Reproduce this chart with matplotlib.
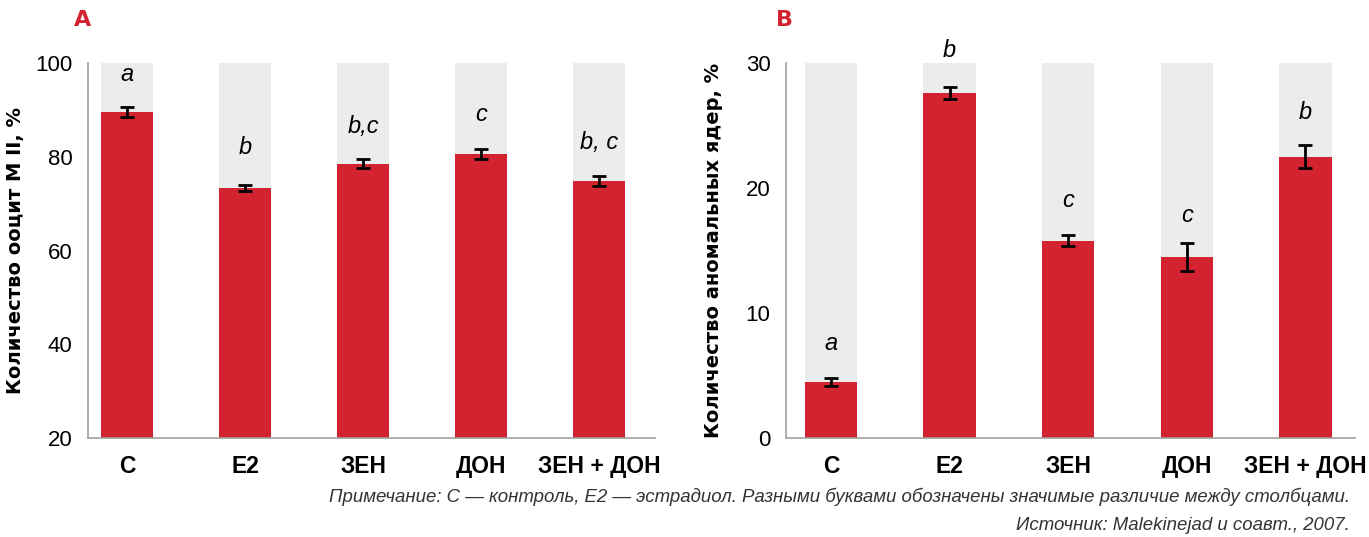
''' oocyte maturation and abnormal nuclei bar charts '''
import matplotlib
matplotlib.use('Agg')
import matplotlib.pyplot as plt

RED = '#d42330'
GREY = '#ebeded'
NARROW = ['Liberation Sans', 'DejaVu Sans']

groups = ['С', 'E2', 'ЗЕН', 'ДОН', 'ЗЕН + ДОН']

# panel A: oocytes in M II, %
mii_mean = [89.5, 73.3, 78.5, 80.6, 74.8]
mii_err = [1.0, 0.6, 1.0, 1.0, 1.0]
mii_letters = ['a', 'b', 'b,c', 'c', 'b, c']
mii_letter_y = [97.5, 82.0, 86.5, 89.0, 83.0]

# panel B: abnormal nuclei, %
abn_mean = [4.5, 27.6, 15.8, 14.5, 22.5]
abn_err = [0.3, 0.5, 0.4, 1.1, 0.9]
abn_letters = ['a', 'b', 'c', 'c', 'b']
abn_letter_y = [7.6, 31.0, 19.0, 17.8, 26.0]


def draw_panel(ax, means, errs, letters, letter_y, ylim, yticks, ylabel, xlim):
    '''draws one panel of red bars over grey full-height columns'''
    x = list(range(len(groups)))
    ax.bar(x, [ylim[1] - ylim[0]] * len(x), bottom=ylim[0], width=0.44,
           color=GREY, zorder=1)
    ax.bar(x, [m - ylim[0] for m in means], bottom=ylim[0], width=0.44,
           color=RED, zorder=2)
    ax.errorbar(x, means, yerr=errs, fmt='none', ecolor='black',
                elinewidth=2, capsize=5, capthick=2, zorder=3)
    for xi, lab, ly in zip(x, letters, letter_y):
        ax.text(xi, ly, lab, ha='center', va='center', fontsize=17,
                style='italic', family=NARROW, zorder=4, clip_on=False)
    ax.set_ylim(*ylim)
    ax.set_xlim(*xlim)
    ax.set_yticks(yticks)
    ax.set_yticklabels([str(t) for t in yticks], family=NARROW, fontsize=16)
    ax.set_xticks(x)
    ax.set_xticklabels(groups, family=NARROW, fontsize=16.5, fontweight='bold')
    ax.tick_params(length=0, axis='y', pad=11)
    ax.tick_params(length=0, axis='x', pad=12)
    for side in ('top', 'right'):
        ax.spines[side].set_visible(False)
    for side in ('left', 'bottom'):
        ax.spines[side].set_color('#a0a0a0')
        ax.spines[side].set_linewidth(1.2)
    ax.set_ylabel(ylabel, fontsize=14, fontweight='bold', family=['DejaVu Sans'])
    ax.yaxis.set_label_coords(-0.111, 0.5)


def main():
    '''main function'''
    fig = plt.figure(figsize=(13.69, 5.37), dpi=100)
    ax_a = fig.add_axes([0.0643, 0.184, 0.414, 0.699])
    ax_b = fig.add_axes([0.574, 0.184, 0.416, 0.699])

    draw_panel(ax_a, mii_mean, mii_err, mii_letters, mii_letter_y,
               (20, 100), [20, 40, 60, 80, 100], 'Количество ооцит M II, %',
               (-0.33, 4.47))
    draw_panel(ax_b, abn_mean, abn_err, abn_letters, abn_letter_y,
               (0, 30), [0, 10, 20, 30], 'Количество аномальных ядер, %',
               (-0.38, 4.42))

    fig.text(83 / 1369, 1 - 20 / 537, 'A', color=RED, fontsize=16,
             fontweight='bold', ha='center', va='center')
    fig.text(785 / 1369, 1 - 20 / 537, 'B', color=RED, fontsize=16,
             fontweight='bold', ha='center', va='center')

    fig.text(1350 / 1369, 1 - 497 / 537,
             'Примечание: С — контроль, E2 — эстрадиол. Разными буквами '
             'обозначены значимые различие между столбцами.',
             ha='right', va='center', fontsize=13.4, style='italic',
             family=NARROW, color='#333333')
    fig.text(1350 / 1369, 1 - 526 / 537,
             'Источник: Malekinejad и соавт., 2007.',
             ha='right', va='center', fontsize=13.4, style='italic',
             family=NARROW, color='#333333')

    fig.savefig('out.png', dpi=100)


if __name__ == "__main__":
    main()
